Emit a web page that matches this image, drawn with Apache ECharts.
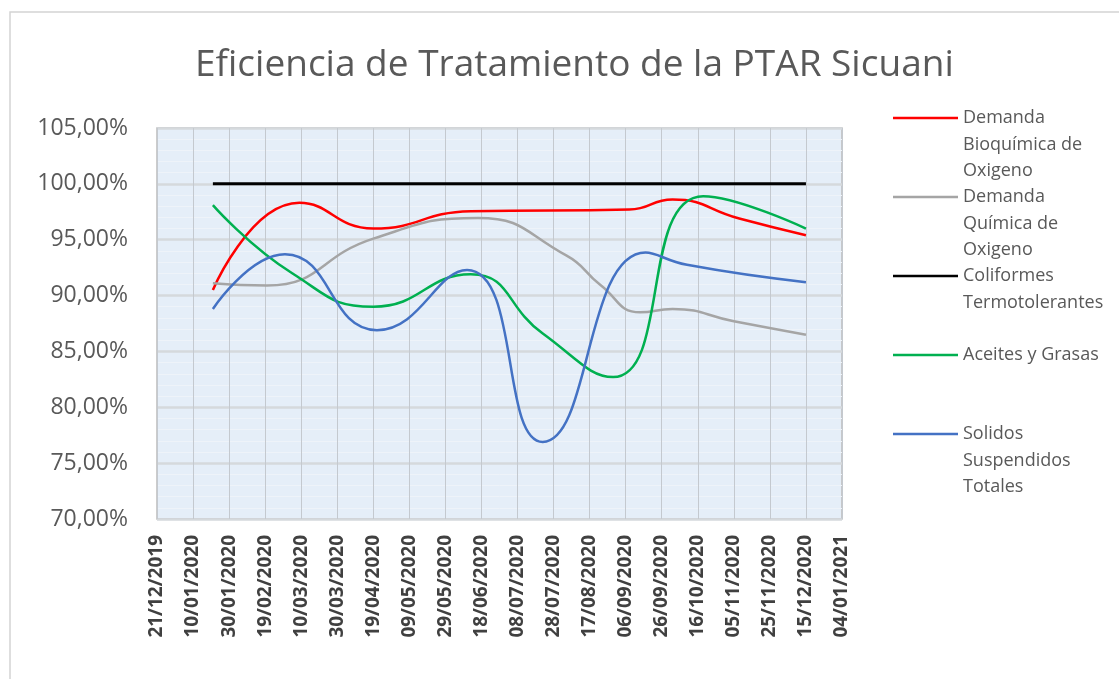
<!DOCTYPE html>
<html>
<head>
<meta charset="utf-8">
<title>Eficiencia de Tratamiento de la PTAR Sicuani</title>
<script src="https://cdn.jsdelivr.net/npm/echarts@6/dist/echarts.min.js"></script>
<style>
  html, body { margin: 0; padding: 0; background: #fff; }
  #chart { width: 1119px; height: 679px; }
</style>
</head>
<body>
<div id="chart"></div>
<script>
// puntos: fechas (dd/mm/aaaa) y eficiencias en %
const fechasDbo = ['21/01/2020', '09/03/2020', '19/04/2020', '12/06/2020', '08/09/2020', '02/10/2020', '08/11/2020', '15/12/2020'];
const dbo = [90.5, 98.3, 96.0, 97.55, 97.7, 98.6, 96.9, 95.4];

const fechasDqo = ['21/01/2020', '20/02/2020', '19/04/2020', '16/06/2020', '04/08/2020', '23/08/2020', '14/09/2020', '02/10/2020', '05/11/2020', '15/12/2020'];
const dqo = [91.1, 90.9, 95.1, 96.95, 93.6, 90.95, 88.5, 88.8, 87.7, 86.5];

const fechasColiformes = ['21/01/2020', '15/12/2020'];
const coliformes = [100, 100];

const fechasAceites = ['21/01/2020', '05/03/2020', '19/04/2020', '12/06/2020', '22/07/2020', '30/08/2020', '19/10/2020', '15/12/2020'];
const aceites = [98.1, 92.0, 89.0, 91.9, 86.6, 82.7, 98.9, 96.0];

const fechasSst = ['21/01/2020', '01/03/2020', '21/04/2020', '10/06/2020', '22/07/2020', '17/09/2020', '10/10/2020', '15/12/2020'];
const sst = [88.8, 93.7, 86.9, 92.3, 76.9, 93.85, 92.75, 91.2];

// eje x: fecha inicial, final y paso en dias
const inicioEje = '21/12/2019';
const finEje = '04/01/2021';
const pasoDias = 20;

// eje y
const yMin = 70, yMax = 105, yPaso = 5;

const nombres = [
    'Demanda Bioquímica de Oxigeno',
    'Demanda Química de Oxigeno',
    'Coliformes Termotolerantes',
    'Aceites y Grasas',
    'Solidos Suspendidos Totales'
];
const textosLeyenda = [
    'Demanda\nBioquímica de\nOxigeno',
    'Demanda\nQuímica de\nOxigeno',
    'Coliformes\nTermotolerantes',
    'Aceites y Grasas',
    'Solidos\nSuspendidos\nTotales'
];
const colores = ['#FF0000', '#A5A5A5', '#000000', '#00B050', '#4472C4'];
const fechasSeries = [fechasDbo, fechasDqo, fechasColiformes, fechasAceites, fechasSst];
const valores = [dbo, dqo, coliformes, aceites, sst];

const FUENTE = '"Open Sans", sans-serif';
const GRIS = '#595959';

function aDia(f) {
    const [d, m, a] = f.split('/').map(Number);
    return Date.UTC(a, m - 1, d) / 86400000;
}
const dia0 = aDia(inicioEje);
const diaFin = aDia(finEje) - dia0;

function dos(n) { return String(n).padStart(2, '0'); }
function etiquetaFecha(offset) {
    const t = new Date((dia0 + offset) * 86400000);
    return dos(t.getUTCDate()) + '/' + dos(t.getUTCMonth() + 1) + '/' + t.getUTCFullYear();
}

const chart = echarts.init(document.getElementById('chart'));

// leyenda: un componente por serie; lineas vacias al inicio para que la
// linea del icono quede a la altura de la primera linea del texto
const LH = 26.4;
const iconoY = [118, 197, 276, 355, 434];
const leyendas = nombres.map(function (nombre, i) {
    const n = textosLeyenda[i].split('\n').length;
    const texto = '\n'.repeat(n - 1) + textosLeyenda[i];
    return {
        data: [nombre],
        orient: 'vertical',
        left: 893,
        top: iconoY[i] - (2 * n - 1) * LH / 2,
        padding: 0,
        icon: 'rect',
        itemWidth: 65,
        itemHeight: 2.5,
        selectedMode: false,
        formatter: function () { return texto; },
        textStyle: {
            fontFamily: FUENTE,
            fontSize: 18,
            color: GRIS,
            lineHeight: LH
        }
    };
});

const series = nombres.map(function (nombre, i) {
    return {
        name: nombre,
        type: 'line',
        data: fechasSeries[i].map(function (f, j) { return [aDia(f) - dia0, valores[i][j]]; }),
        smooth: 0.5,
        symbol: 'none',
        lineStyle: { color: colores[i], width: i === 2 ? 3 : 2.5 },
        itemStyle: { color: colores[i] }
    };
});

const option = {
    animation: false,
    backgroundColor: '#ffffff',
    textStyle: { fontFamily: FUENTE },
    title: {
        text: 'Eficiencia de Tratamiento de la PTAR Sicuani',
        left: 190,
        top: 42,
        textStyle: { fontFamily: FUENTE, fontSize: 37, fontWeight: 'normal', color: GRIS }
    },
    graphic: [{
        type: 'rect',
        silent: true,
        shape: { x: 10, y: 12, width: 1130, height: 700 },
        style: { fill: 'none', stroke: '#d4d4d4', lineWidth: 1.5 }
    }],
    legend: leyendas,
    grid: {
        left: 157, right: 277, top: 128, bottom: 160,
        containLabel: false,
        outerBoundsMode: 'none',
        show: true,
        backgroundColor: '#e5eef8',
        borderColor: '#bcbcbc',
        borderWidth: 1.5
    },
    xAxis: {
        type: 'value',
        min: 0,
        max: diaFin,
        interval: pasoDias,
        axisLine: { show: false },
        axisTick: { show: false },
        axisLabel: {
            rotate: 90,
            margin: 16,
            showMinLabel: true,
            showMaxLabel: true,
            fontFamily: FUENTE,
            fontSize: 19,
            fontWeight: 'bold',
            color: '#404040',
            formatter: etiquetaFecha
        },
        splitLine: { show: true, lineStyle: { color: '#c4c9cf', width: 1 } }
    },
    yAxis: {
        type: 'value',
        min: yMin,
        max: yMax,
        interval: yPaso,
        axisLine: { show: false },
        axisTick: { show: false },
        axisLabel: {
            margin: 29,
            fontFamily: FUENTE,
            fontSize: 23,
            color: GRIS,
            formatter: function (v) { return v.toFixed(2).replace('.', ',') + '%'; }
        },
        splitLine: { show: true, lineStyle: { color: '#d5d9dc', width: 2.5 } },
        minorTick: { show: false, splitNumber: 5 },
        minorSplitLine: { show: true, lineStyle: { color: '#eef3f9', width: 1 } }
    },
    series: series
};

chart.setOption(option);
</script>
</body>
</html>
